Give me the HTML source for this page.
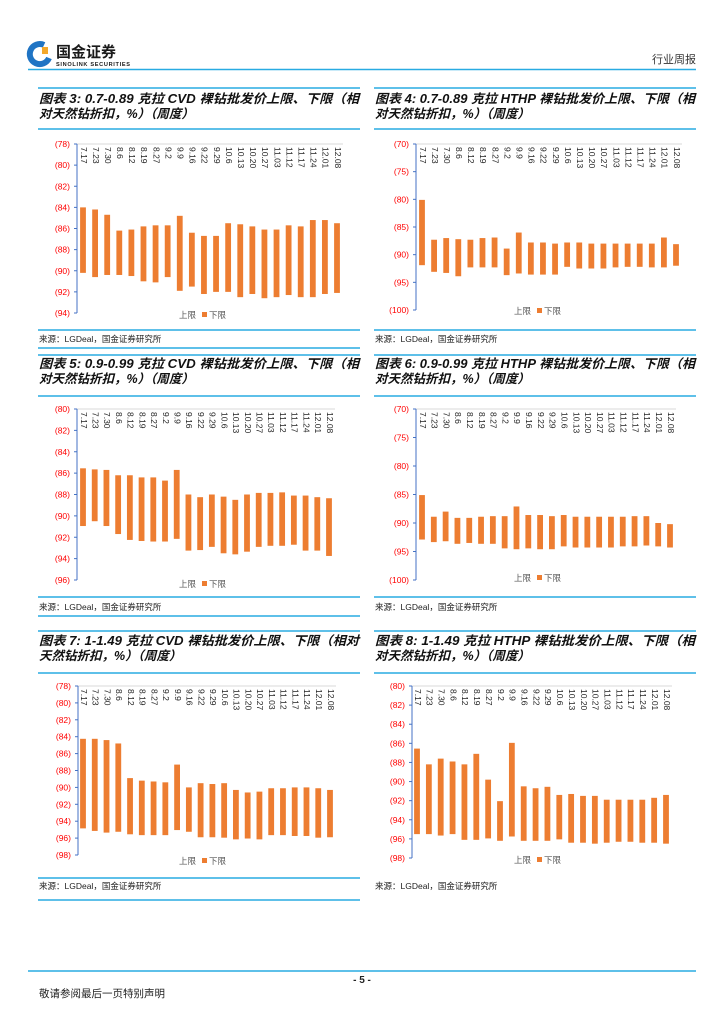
<!DOCTYPE html>
<html><head><meta charset="utf-8">
<style>
html,body{margin:0;padding:0;background:#fff;}
svg{display:block;}
text{font-family:"Liberation Sans","Noto Sans CJK SC",sans-serif;}
</style></head>
<body>
<svg id="page" width="724" height="1024" viewBox="0 0 724 1024" xmlns="http://www.w3.org/2000/svg">
  <g>
    <g>
      <path d="M44 45 A10 10 0 1 0 49 58" fill="none" stroke="#1f74c4" stroke-width="6"/>
      <rect x="42" y="47" width="6" height="7" fill="#f4a82a"/>
    </g>
    <text x="56" y="57" font-size="15" font-weight="bold" fill="#1a1a1a">国金证券</text>
    <text x="56" y="66" font-size="5.6" font-weight="bold" fill="#1a1a1a" textLength="74">SINOLINK SECURITIES</text>
    <text x="696" y="63" font-size="11" fill="#333" text-anchor="end">行业周报</text>
    <line x1="28" y1="69.5" x2="696" y2="69.5" stroke="#29abe2" stroke-width="1.5"/>
  </g>
  <g id="blocks"></g>
  <g>
    <line x1="28" y1="971" x2="696" y2="971" stroke="#29abe2" stroke-width="1.5"/>
    <text x="362" y="983" font-size="10" font-weight="bold" text-anchor="middle" fill="#222">- 5 -</text>
    <text x="39" y="997" font-size="10.5" fill="#222">敬请参阅最后一页特别声明</text>
  </g>
</svg>
<script>
const categories = ["7.17","7.23","7.30","8.6","8.12","8.19","8.27","9.2","9.9","9.16","9.22","9.29","10.6","10.13","10.20","10.27","11.03","11.12","11.17","11.24","12.01","12.08"];

const upper3 = [84.0,84.2,84.7,86.2,86.1,85.8,85.7,85.7,84.8,86.4,86.7,86.7,85.5,85.6,85.8,86.1,86.1,85.7,85.8,85.2,85.2,85.5];
const lower3 = [90.2,90.6,90.4,90.4,90.5,91.0,91.1,90.6,91.9,91.5,92.2,92.0,92.0,92.5,92.2,92.6,92.5,92.3,92.5,92.5,92.2,92.1];
const ticks3 = [78,80,82,84,86,88,90,92,94];

const upper4 = [80.1,87.3,87.0,87.2,87.3,87.0,86.9,88.9,86.0,87.8,87.8,88.0,87.8,87.8,88.0,88.0,88.0,88.0,88.0,88.0,86.9,88.1];
const lower4 = [91.9,93.1,93.3,93.9,92.3,92.3,92.3,93.7,93.4,93.6,93.6,93.6,92.2,92.5,92.5,92.5,92.3,92.2,92.2,92.3,92.3,92.0];
const ticks4 = [70,75,80,85,90,95,100];

const upper5 = [85.55,85.65,85.7,86.2,86.2,86.4,86.4,86.7,85.7,88.0,88.25,88.0,88.2,88.5,88.0,87.85,87.85,87.8,88.1,88.1,88.25,88.35];
const lower5 = [90.95,90.5,90.95,91.7,92.25,92.35,92.4,92.4,92.15,93.25,93.2,92.9,93.5,93.6,93.35,92.9,92.8,92.8,92.7,93.25,93.25,93.75];
const ticks5 = [80,82,84,86,88,90,92,94,96];

const upper6 = [85.1,88.9,88.0,89.1,89.1,88.9,88.8,88.8,87.1,88.6,88.6,88.8,88.6,88.9,88.9,88.9,88.9,88.9,88.8,88.8,90.0,90.2];
const lower6 = [92.9,93.35,93.2,93.65,93.5,93.65,93.65,94.45,94.6,94.45,94.6,94.6,94.1,94.3,94.3,94.3,94.3,94.1,94.1,93.95,94.1,94.3];
const ticks6 = [70,75,80,85,90,95,100];

const upper7 = [84.25,84.25,84.4,84.8,88.9,89.2,89.3,89.4,87.3,90.0,89.5,89.6,89.5,90.3,90.6,90.5,90.1,90.1,90.0,90.0,90.1,90.3];
const lower7 = [94.85,95.15,95.35,95.25,95.55,95.65,95.65,95.65,95.05,95.25,95.9,95.9,95.95,96.15,96.05,96.15,95.65,95.65,95.75,95.75,95.95,95.9];
const ticks7 = [78,80,82,84,86,88,90,92,94,96,98];

const upper8 = [86.55,88.2,87.6,87.9,88.2,87.1,89.8,92.05,85.95,90.5,90.7,90.55,91.4,91.3,91.5,91.5,91.9,91.9,91.9,91.9,91.7,91.4];
const lower8 = [95.5,95.5,95.65,95.5,96.1,96.1,95.95,96.2,95.75,96.2,96.2,96.2,96.05,96.4,96.4,96.5,96.4,96.3,96.3,96.4,96.4,96.5];
const ticks8 = [80,82,84,86,88,90,92,94,96,98];

const NS = "http://www.w3.org/2000/svg";
const root = document.getElementById("blocks");
function mk(tag, attrs, parent, txt){
  const e = document.createElementNS(NS, tag);
  for (const k in attrs) e.setAttribute(k, attrs[k]);
  if (txt !== undefined) e.textContent = txt;
  (parent || root).appendChild(e);
  return e;
}

function line(x1,y1,x2,y2,name,color,w){
  const l = mk("line",{x1:x1,y1:y1,x2:x2,y2:y2,stroke:color||"#29abe2","stroke-width":w||1.5});
  
  
  return l;
}

function block(x0, x1, topY, t1, t2, titleY, underY, chartBottomRule, srcY, bottomRule, id){
  line(x0, topY, x1, topY, "title-top-rule-" + id);
  const a = mk("text",{x:x0+1,y:titleY,"font-size":12.5,"font-weight":"bold","font-style":"italic",fill:"#111",textLength:x1-x0-2,lengthAdjust:"spacingAndGlyphs"},root,t1);
  
  
  const b = mk("text",{x:x0+1,y:titleY+15,"font-size":12.5,"font-weight":"bold","font-style":"italic",fill:"#111"},root,t2);
  
  
  line(x0, underY, x1, underY, "title-bottom-rule-" + id);
  if (chartBottomRule) line(x0, chartBottomRule, x1, chartBottomRule, "chart-bottom-rule-" + id);
  const s = mk("text",{x:x0+1,y:srcY,"font-size":8.5,fill:"#222"},root,"来源：LGDeal，国金证券研究所");
  
  
  if (bottomRule) line(x0, bottomRule, x1, bottomRule, "source-bottom-rule-" + id);
}

function chart(id, axisX, firstX, lastX, rightX, topY, botY, ticks, upper, lower, legendX, legendY){
  const g = mk("g",{});
  
  
  const vmin = ticks[0], vmax = ticks[ticks.length-1];
  const y = v => topY + (v - vmin) / (vmax - vmin) * (botY - topY);
  const step = (lastX - firstX) / (categories.length - 1);
  const x = i => firstX + i * step;
  const bw = 5.8;
  // top gridline
  const gl = mk("line",{x1:axisX,y1:topY,x2:rightX,y2:topY,stroke:"#d9d9d9","stroke-width":1},g);
  
  
  // bars
  for (let i=0;i<categories.length;i++){
    const r = mk("rect",{x:x(i)-bw/2,y:y(upper[i]),width:bw,height:y(lower[i])-y(upper[i]),fill:"#ED7D31"},g);
    
    
  }
  // axis
  const ax = mk("line",{x1:axisX,y1:topY,x2:axisX,y2:botY,stroke:"#4472C4","stroke-width":1},g);
  
  
  for (const t of ticks){
    const tk = mk("line",{x1:axisX-3,y1:y(t),x2:axisX,y2:y(t),stroke:"#4472C4","stroke-width":1},g);
    
    
    const tl = mk("text",{x:axisX-7,y:y(t)+3,"font-size":8.5,fill:"#FF0000","text-anchor":"end"},g,"("+t+")");
    
    
  }
  // category labels
  for (let i=0;i<categories.length;i++){
    const cx = x(i), cy = topY + 3;
    const ct = mk("text",{x:cx,y:cy,"font-size":8.5,fill:"#222","dominant-baseline":"middle",transform:"rotate(90 "+cx+" "+cy+")"},g,categories[i]);
    
    
  }
  // legend
  const lg = mk("g",{},g);
  
  
  const l1 = mk("text",{x:legendX,y:legendY+3,"font-size":8.5,fill:"#555"},lg,"上限");
  
  
  const sw = mk("rect",{x:legendX+23,y:legendY-3,width:5,height:5,fill:"#ED7D31"},lg);
  
  
  const l2 = mk("text",{x:legendX+30,y:legendY+3,"font-size":8.5,fill:"#555"},lg,"下限");
  
  
}

// Block row A
block(38,360,88,"图表 3:  0.7-0.89 克拉 CVD 裸钻批发价上限、下限（相","对天然钻折扣，%）（周度）",103,129,330,342,348,"3");
block(374,696,88,"图表 4:  0.7-0.89 克拉 HTHP 裸钻批发价上限、下限（相","对天然钻折扣，%）（周度）",103,129,330,342,0,"4");
chart("3",77,83,337,343,144,313,ticks3,upper3,lower3,179,315);
chart("4",416,422,676,682,144,310,ticks4,upper4,lower4,514,311);

// Block row B
block(38,360,355,"图表 5:  0.9-0.99 克拉 CVD 裸钻批发价上限、下限（相","对天然钻折扣，%）（周度）",368,396,597,610,616,"5");
block(374,696,355,"图表 6:  0.9-0.99 克拉 HTHP 裸钻批发价上限、下限（相","对天然钻折扣，%）（周度）",368,396,597,610,0,"6");
chart("5",77,83,329,335,409,580,ticks5,upper5,lower5,179,584);
chart("6",416,422,670,676,409,580,ticks6,upper6,lower6,514,578);

// Block row C
block(38,360,631,"图表 7:  1-1.49 克拉 CVD 裸钻批发价上限、下限（相对","天然钻折扣，%）（周度）",645,673,878,889,900,"7");
block(374,696,631,"图表 8:  1-1.49 克拉 HTHP 裸钻批发价上限、下限（相","对天然钻折扣，%）（周度）",645,673,0,889,0,"8");
chart("7",78,83,330,336,686,855,ticks7,upper7,lower7,179,861);
chart("8",412,417,666,672,686,858,ticks8,upper8,lower8,514,860);
</script>
</body></html>
